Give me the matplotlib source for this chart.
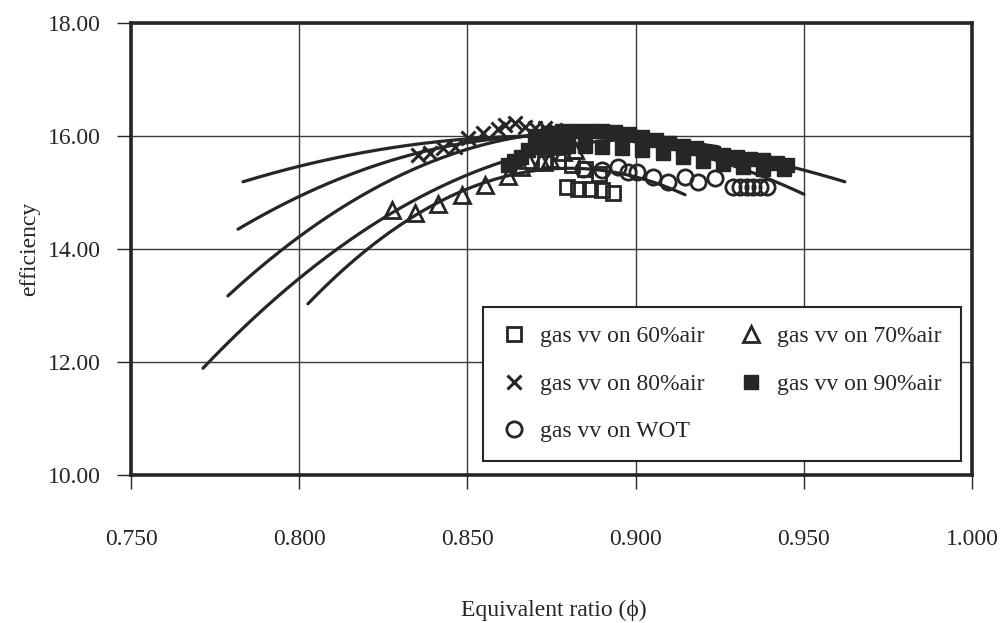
import numpy as np
import matplotlib
matplotlib.use("Agg")
import matplotlib.pyplot as plt
from matplotlib.ticker import FormatStrFormatter

plt.rcParams['font.family'] = ['Liberation Serif', 'DejaVu Serif']

# ---------------- data ----------------
sq60_x = [0.873, 0.877, 0.881, 0.885, 0.889, 0.8796, 0.8829, 0.8864, 0.8900, 0.8933]
sq60_y = [15.52, 15.55, 15.48, 15.42, 15.33, 15.10, 15.06, 15.06, 15.04, 15.00]

tri70_x = [0.8276, 0.8344, 0.8413, 0.8484, 0.8552, 0.8621, 0.8660, 0.8680, 0.8720, 0.8746, 0.8784, 0.8820]
tri70_y = [14.69, 14.64, 14.80, 14.96, 15.13, 15.30, 15.45, 15.58, 15.55, 15.60, 15.72, 15.75]

x80_x = [0.8353, 0.8389, 0.8427, 0.8463, 0.8502, 0.8546, 0.8590, 0.8612, 0.8641, 0.8671, 0.8700, 0.8730, 0.8760]
x80_y = [15.66, 15.70, 15.79, 15.81, 15.96, 16.05, 16.12, 16.19, 16.23, 16.16, 16.14, 16.14, 16.10]

fsq90_x = [0.870, 0.874, 0.878, 0.882, 0.886, 0.890, 0.894, 0.898, 0.902, 0.906,
           0.910, 0.914, 0.918, 0.922, 0.926, 0.930, 0.934, 0.938, 0.942, 0.945,
           0.862, 0.864, 0.866, 0.868, 0.872, 0.876, 0.880, 0.885, 0.890, 0.896,
           0.902, 0.908, 0.914, 0.920, 0.926, 0.932, 0.938, 0.944]
fsq90_y = [16.00, 16.05, 16.08, 16.08, 16.08, 16.08, 16.07, 16.03, 15.98, 15.93,
           15.88, 15.83, 15.78, 15.72, 15.67, 15.62, 15.60, 15.58, 15.52, 15.48,
           15.48, 15.56, 15.62, 15.75, 15.80, 15.82, 15.82, 15.82, 15.80, 15.78,
           15.75, 15.70, 15.62, 15.55, 15.50, 15.45, 15.42, 15.42]

wot_x = [0.8844, 0.8900, 0.8948, 0.8977, 0.9004, 0.9052, 0.9096, 0.9147, 0.9186, 0.9236,
         0.9290, 0.9310, 0.9330, 0.9350, 0.9370, 0.9390]
wot_y = [15.42, 15.40, 15.45, 15.36, 15.36, 15.27, 15.19, 15.27, 15.19, 15.26,
         15.10, 15.10, 15.10, 15.10, 15.10, 15.10]

# points read on each trend curve (start, middle, end)
trend90_x = [0.7833, 0.8725, 0.9622]
trend90_y = [15.19, 16.00, 15.19]
trend80_x = [0.7818, 0.8353, 0.9500]
trend80_y = [14.35, 15.70, 14.97]
trend70_x = [0.8026, 0.8597, 0.9147]
trend70_y = [13.03, 15.26, 14.96]
trend60_x = [0.7714, 0.8276, 0.9250]
trend60_y = [11.89, 14.64, 15.80]
trendwot_x = [0.7788, 0.8383, 0.9300]
trendwot_y = [13.17, 15.52, 15.55]

labels = ['gas vv on 60%air', 'gas vv on 80%air', 'gas vv on WOT',
          'gas vv on 70%air', 'gas vv on 90%air']

INK = '#262626'

fig = plt.figure(figsize=(10.04, 6.23), dpi=100)
ax = fig.add_axes([131/1004, 1-475/623, (972-131)/1004, (475-23)/623])

# trend curves
for tx, ty in [(trend90_x, trend90_y), (trend80_x, trend80_y), (trend70_x, trend70_y),
               (trend60_x, trend60_y), (trendwot_x, trendwot_y)]:
    c = np.polyfit(tx, ty, 2)
    xs = np.linspace(min(tx), max(tx), 200)
    ax.plot(xs, np.polyval(c, xs), color=INK, lw=2.3, zorder=3, solid_capstyle='round')

h60, = ax.plot(sq60_x, sq60_y, ls='none', marker='s', ms=10, mfc='none', mec=INK, mew=2.0, zorder=4)
h80, = ax.plot(x80_x, x80_y, ls='none', marker='x', ms=10, mec=INK, mew=2.2, zorder=4)
hwot, = ax.plot(wot_x, wot_y, ls='none', marker='o', ms=11, mfc='none', mec=INK, mew=2.0, zorder=4)
h70, = ax.plot(tri70_x, tri70_y, ls='none', marker='^', ms=11, mfc='none', mec=INK, mew=2.0, zorder=4)
h90, = ax.plot(fsq90_x, fsq90_y, ls='none', marker='s', ms=9.5, mfc=INK, mec=INK, mew=1, zorder=4)

ax.set_xlim(0.75, 1.0)
ax.set_ylim(10, 18)
ax.set_xticks(np.arange(0.75, 1.0001, 0.05))
ax.set_yticks(np.arange(10, 18.01, 2))
ax.xaxis.set_major_formatter(FormatStrFormatter('%.3f'))
ax.yaxis.set_major_formatter(FormatStrFormatter('%.2f'))
ax.grid(True, color='#3a3a3a', lw=1.0)
ax.set_axisbelow(True)
for s in ax.spines.values():
    s.set_linewidth(2.6)
    s.set_color(INK)
ax.tick_params(axis='both', direction='out', length=10, width=1.0, color=INK,
               labelsize=17, labelcolor=INK)
ax.tick_params(axis='x', pad=29)
ax.tick_params(axis='y', pad=12)

fig.text(30/1004, 1-249/623, 'efficiency', rotation=90, ha='center', va='center',
         fontsize=17, color=INK)
fig.text(554/1004, 1-610/623, 'Equivalent ratio (\u03d5)', ha='center', va='center',
         fontsize=17, color=INK)

leg = ax.legend([h60, h80, hwot, h70, h90], labels, ncol=2, loc='upper left',
                bbox_to_anchor=((483-131)/841, (475-307)/452), fontsize=17,
                frameon=True, fancybox=False, framealpha=1, edgecolor=INK,
                handlelength=1.0, handletextpad=0.6, columnspacing=1.5,
                labelspacing=1.1, borderpad=0.8, borderaxespad=0)
leg.get_frame().set_linewidth(1.5)
for t in leg.get_texts():
    t.set_color(INK)

fig.savefig('out.png', dpi=100, facecolor='white')
